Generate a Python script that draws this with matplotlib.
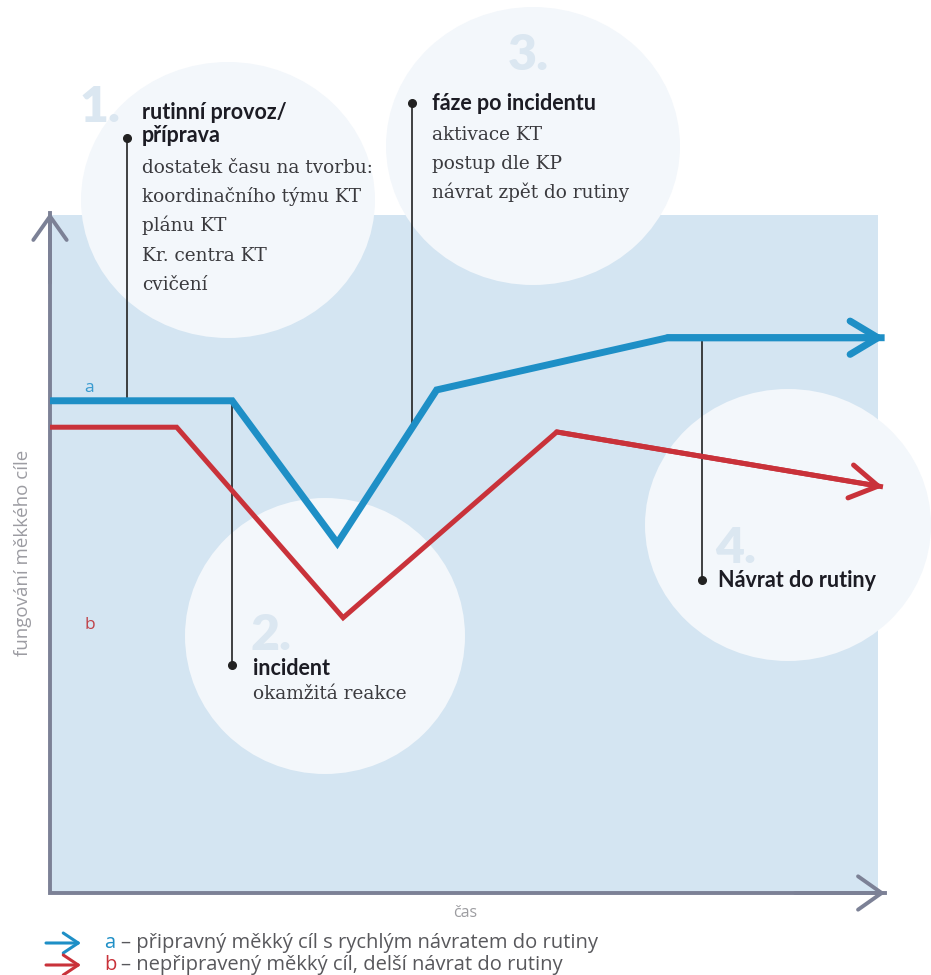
import numpy as np
import matplotlib
matplotlib.use('Agg')
import matplotlib.pyplot as plt
from matplotlib.patches import Ellipse
from matplotlib.transforms import Affine2D

# data (time 0..10, performance 0..10)
t_a = [0, 2.20, 3.47, 4.67, 7.46, 10.08]
a_vals = [7.26, 7.26, 5.16, 7.42, 8.19, 8.19]
t_b = [0, 1.53, 3.54, 6.12, 10.06]
b_vals = [6.87, 6.87, 4.06, 6.80, 5.99]

phase_t = [0.93, 2.20, 4.37, 7.87]
phase_end = [11.14, 3.36, 11.65, 4.62]
phase_nums = ['1.', '2.', '3.', '4.']

heading_1 = ['rutinní provoz/', 'příprava']
body_1 = ['dostatek času na tvorbu:', 'koordinačního týmu KT', 'plánu KT',
          'Kr. centra KT', 'cvičení']
heading_2 = ['incident']
body_2 = ['okamžitá reakce']
heading_3 = ['fáze po incidentu']
body_3 = ['aktivace KT', 'postup dle KP', 'návrat zpět do rutiny']
heading_4 = ['Návrat do rutiny']

legend_a = '– připravný měkký cíl s rychlým návratem do rutiny'
legend_b = '– nepřipravený měkký cíl, delší návrat do rutiny'

blue = '#1e8fc6'
red = '#c9323a'
axis_c = '#7c8196'
bg = '#d4e5f2'
circle_c = '#f3f7fb'
digit_c = '#dbe7f1'

W, H = 931, 975
fig = plt.figure(figsize=(W / 100, H / 100), dpi=100)
ax = fig.add_axes([50 / W, 82 / H, 828 / W, 678 / H])
ax.set_xlim(0, 10)
ax.set_ylim(0, 10)
ax.set_facecolor(bg)
for s in ax.spines.values():
    s.set_visible(False)
ax.set_xticks([])
ax.set_yticks([])

# reference pixel coords (origin top-left) for the decorations
px = Affine2D().scale(1, -1).translate(0, H)

circles = [(228, 200, 147, 138), (325, 636, 140, 138),
           (533, 146, 147, 139), (788, 525, 143, 136)]
for cx, cy, rx, ry in circles:
    ax.add_patch(Ellipse((cx, cy), 2 * rx, 2 * ry, transform=px,
                         facecolor=circle_c, edgecolor='none', zorder=1, clip_on=False))

digit_pos = [(80, 122), (251, 650), (508, 70), (715, 563)]
for (x, y), n in zip(digit_pos, phase_nums):
    ax.text(x, y, n, transform=px, fontsize=36, family='Lato', fontweight='heavy',
            color=digit_c, va='baseline', ha='left', zorder=1.5)

# axes with arrows
ax.plot([0, 0, 1.0085], [1.003, 0, 0], transform=ax.transAxes, color=axis_c,
        lw=2.8, solid_joinstyle='miter', clip_on=False, zorder=2)
for tip, start in [((0, 1.003), (0, 0.9)), ((1.0085, 0), (0.9, 0))]:
    ax.annotate('', xy=tip, xytext=start, xycoords='axes fraction',
                arrowprops=dict(arrowstyle='->,head_length=0.85,head_width=0.6',
                                lw=2.8, color=axis_c, mutation_scale=20,
                                shrinkA=0, shrinkB=0), annotation_clip=False, zorder=2)

# connectors
for t, yend in zip(phase_t, phase_end):
    y_line = np.interp(t, t_a, a_vals)
    ax.plot([t, t], [y_line, yend], color='#222222', lw=1.2, zorder=2.5, clip_on=False)
    ax.plot(t, yend, 'o', ms=5.5, color='#222222', zorder=4, clip_on=False)

# series
for tt, vv, c, lw in [(t_a, a_vals, blue, 5.0), (t_b, b_vals, red, 3.6)]:
    ax.plot(tt, vv, color=c, lw=lw, solid_joinstyle='miter', solid_capstyle='butt',
            clip_on=False, zorder=3)
    ax.annotate('', xy=(tt[-1], vv[-1]), xytext=(tt[-2], vv[-2]),
                arrowprops=dict(arrowstyle='->,head_length=1.0,head_width=0.6',
                                lw=lw, color=c, mutation_scale=20,
                                shrinkA=0, shrinkB=0), annotation_clip=False, zorder=3)

# phase texts
head_kw = dict(transform=px, family='Lato', fontweight='bold', fontsize=15.5,
               color='#1c1c24', va='baseline', ha='left', zorder=5)
body_kw = dict(transform=px, family='DejaVu Serif', fontsize=13.3, color='#3a3a3e',
               va='baseline', ha='left', zorder=5)

for i, s in enumerate(heading_1):
    ax.text(142, 119 + 23 * i, s, **head_kw)
for i, s in enumerate(body_1):
    ax.text(142, 173 + 29.2 * i, s, **body_kw)

ax.text(253, 675, heading_2[0], **head_kw)
ax.text(253, 699, body_2[0], **body_kw)

ax.text(432, 110, heading_3[0], **head_kw)
for i, s in enumerate(body_3):
    ax.text(432, 140 + 29 * i, s, **body_kw)

ax.text(718, 587, heading_4[0], **head_kw)

# series labels
ax.text(89, 388, 'a', transform=px, color='#3a9bd0', fontsize=12.5, family='Open Sans',
        ha='center', va='center', zorder=5)
ax.text(90, 625, 'b', transform=px, color='#c0434a', fontsize=12.5, family='Open Sans',
        ha='center', va='center', zorder=5)

# axis titles
ax.text(23, 553, 'fungování měkkého cíle', transform=px, rotation=90, ha='center',
        va='center', color='#9c9ca2', fontsize=13.5, family='Open Sans')
ax.text(465, 913, 'čas', transform=px, ha='center', va='center', color='#9c9ca0',
        fontsize=11.5, family='Open Sans')

# legend
for y, c, key, txt in [(943, blue, 'a', legend_a), (965, red, 'b', legend_b)]:
    ax.annotate('', xy=(81, y), xytext=(46, y), xycoords=px, textcoords=px,
                arrowprops=dict(arrowstyle='->,head_length=0.9,head_width=0.6',
                                lw=2.2, color=c, mutation_scale=12,
                                shrinkA=0, shrinkB=0), annotation_clip=False)
    ax.text(104, y, key, transform=px, color=c, fontsize=14.5, family='Open Sans',
            va='center', ha='left')
    ax.text(121, y, txt, transform=px, color='#58585c', fontsize=14.5, family='Open Sans',
            va='center', ha='left')

fig.savefig('out.png', dpi=100)
